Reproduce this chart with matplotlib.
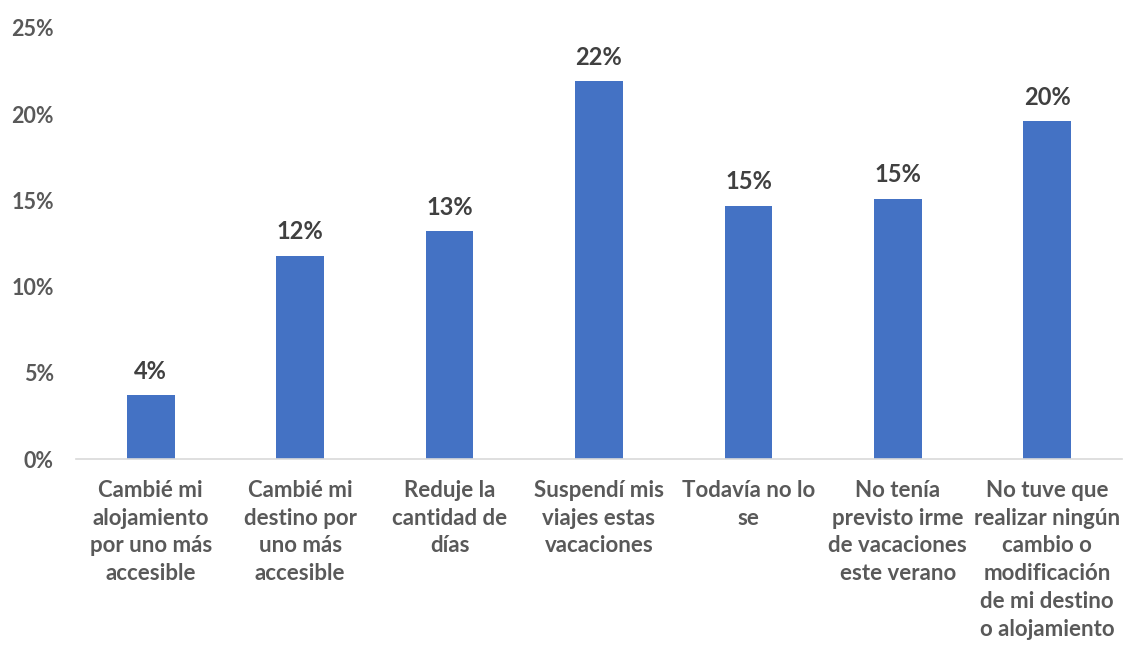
import matplotlib
matplotlib.use("Agg")
import matplotlib.pyplot as plt
from matplotlib.ticker import FuncFormatter

categories = [
    "Cambié mi\nalojamiento\npor uno más\naccesible",
    "Cambié mi\ndestino por\nuno más\naccesible",
    "Reduje la\ncantidad de\ndías",
    "Suspendí mis\nviajes estas\nvacaciones",
    "Todavía no lo\nse",
    "No tenía\nprevisto irme\nde vacaciones\neste verano",
    "No tuve que\nrealizar ningún\ncambio o\nmodificación\nde mi destino\no alojamiento",
]
values = [3.7, 11.8, 13.2, 21.9, 14.7, 15.1, 19.6]
labels = ["4%", "12%", "13%", "22%", "15%", "15%", "20%"]
yticks = [0, 5, 10, 15, 20, 25]

plt.rcParams['font.family'] = ['Lato', 'DejaVu Sans']
fig = plt.figure(figsize=(11.24, 6.46), dpi=100)
ax = fig.add_axes([76/1124, 1-459/646, 1046/1124, 431/646])

x = list(range(len(categories)))
bars = ax.bar(x, values, width=0.32, color="#4472C4")
for b, lab in zip(bars, labels):
    ax.annotate(lab, (b.get_x() + b.get_width()/2, b.get_height()),
                xytext=(0, 9), textcoords="offset points",
                ha="center", va="bottom", fontsize=17, fontweight="bold",
                color="#404040")

ax.set_xlim(-0.5, len(categories) - 0.5)
ax.set_ylim(0, 25)
ax.set_yticks(yticks)
ax.yaxis.set_major_formatter(FuncFormatter(lambda v, p: f"{int(v)}%"))
ax.set_xticks(x)
ax.set_xticklabels(categories, fontsize=16, fontweight="bold", color="#595959",
                   linespacing=1.4)
for t in ax.get_yticklabels():
    t.set_fontsize(15.5)
    t.set_fontweight("bold")
    t.set_color("#595959")
ax.tick_params(axis="both", length=0)
ax.tick_params(axis="x", pad=15)
ax.tick_params(axis="y", pad=16)
for s in ["top", "right", "left"]:
    ax.spines[s].set_visible(False)
ax.spines["bottom"].set_color("#D9D9D9")
ax.spines["bottom"].set_linewidth(1.2)

fig.savefig("out.png", dpi=100)
